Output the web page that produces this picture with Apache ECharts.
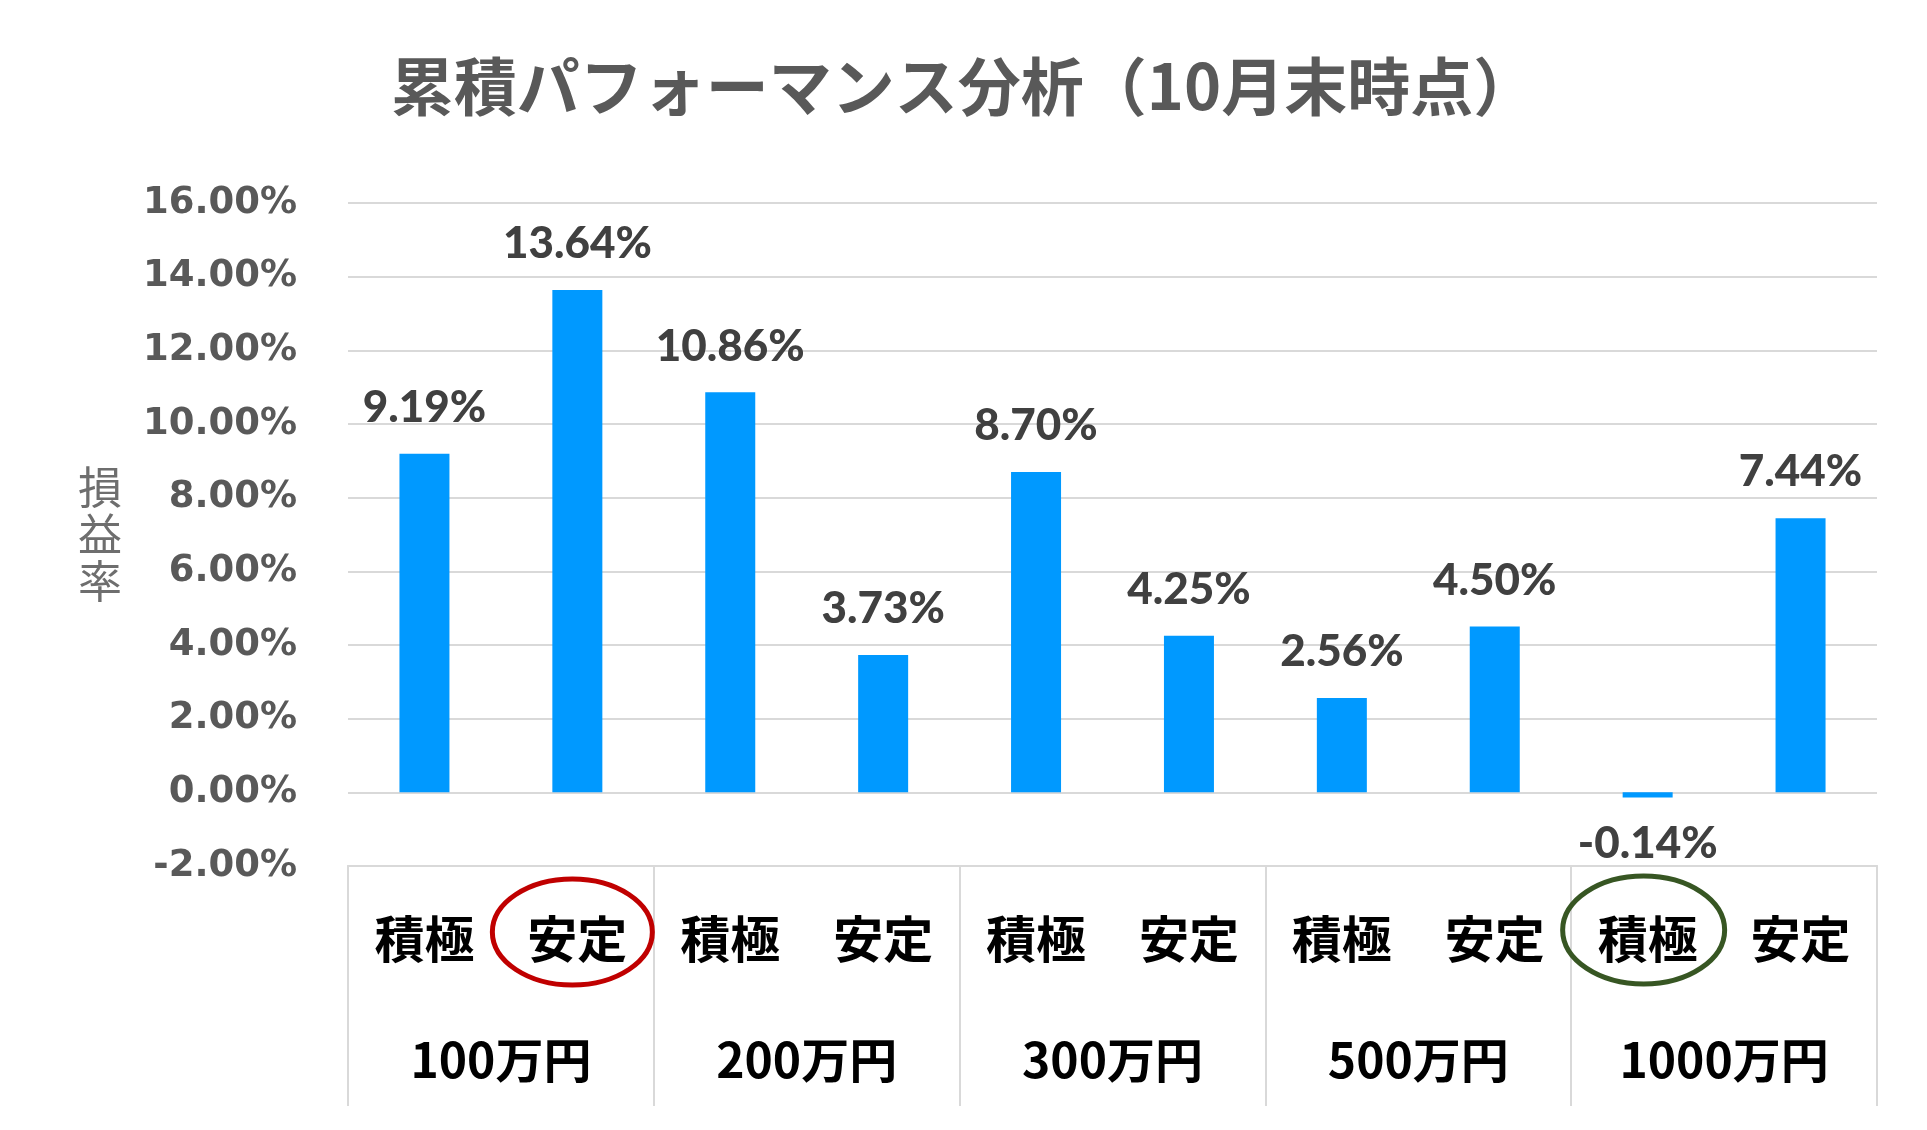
<!DOCTYPE html>
<html>
<head>
<meta charset="utf-8">
<script src="https://cdn.jsdelivr.net/npm/echarts@6/dist/echarts.min.js"></script>
<style>html,body{margin:0;padding:0;background:#fff}#c{width:1927px;height:1130px}</style>
</head>
<body>
<div id="c"></div>
<script>
const titleText = '累積パフォーマンス分析（10月末時点）';
const yAxisName = '損益率';
const types = ['積極','安定','積極','安定','積極','安定','積極','安定','積極','安定'];
const groups = ['100万円','200万円','300万円','500万円','1000万円'];
const values = [9.19, 13.64, 10.86, 3.73, 8.70, 4.25, 2.56, 4.50, -0.14, 7.44];
const yMin = -2, yMax = 16, yStep = 2;
const highlightRed = 1;   // index of circled 安定 (100万円)
const highlightGreen = 8; // index of circled 積極 (1000万円)

const chart = echarts.init(document.getElementById('c'), null, {renderer:'canvas'});
const grid = {left:348, right:50, top:203, bottom:264};
const option = {
  animation:false,
  backgroundColor:'#fff',
  title:{
    text:titleText, left:'center', top:50,
    textStyle:{fontFamily:'Noto Sans CJK JP', fontWeight:'bold', fontSize:63, color:'#595959'}
  },
  grid:grid,
  xAxis:[
    {
      type:'category', data:types, position:'bottom',
      axisLine:{show:true, onZero:false, lineStyle:{color:'#d9d9d9', width:2}},
      axisTick:{show:false},
      axisLabel:{interval:0, margin:48, fontFamily:'Noto Sans CJK JP', fontWeight:'bold', fontSize:50, lineHeight:50, color:'#000'}
    },
    {
      type:'category', data:groups, position:'bottom', offset:0,
      axisLine:{show:true, onZero:false, lineStyle:{color:'#d9d9d9', width:2}},
      axisTick:{show:true, inside:false, length:240, alignWithLabel:false, interval:0, lineStyle:{color:'#d9d9d9', width:2}},
      axisLabel:{interval:0, margin:170, fontFamily:'Noto Sans CJK JP', fontWeight:'bold', fontSize:48, lineHeight:48, color:'#000'}
    }
  ],
  yAxis:{
    type:'value', min:yMin, max:yMax, interval:yStep,
    name:yAxisName.split('').join('\n'), nameLocation:'middle', nameRotate:0, nameGap:226,
    nameTextStyle:{fontFamily:'Noto Sans CJK JP', fontSize:44, lineHeight:47, color:'#6e6e6e'},
    axisLine:{show:false}, axisTick:{show:false},
    axisLabel:{margin:51, fontFamily:'DejaVu Sans', fontWeight:'bold', fontSize:37, color:'#595959',
      padding:[6,0,0,0], formatter:v=>v.toFixed(2)+'%'},
    splitLine:{lineStyle:{color:'#d9d9d9', width:2}}
  },
  series:[{
    type:'bar', xAxisIndex:0, barWidth:50,
    itemStyle:{color:'#0099ff'},
    data:values.map(v=>({value:v, label:{position: v<0?'bottom':'top'}})),
    label:{show:true, distance:24, fontFamily:'Lato', fontWeight:900, fontSize:44, color:'#404040',
      formatter:p=>p.value.toFixed(2)+'%'}
  }]
};
chart.setOption(option);

const yLab = chart.convertToPixel({yAxisIndex:0}, yMin) + 66;
const xr = chart.convertToPixel({xAxisIndex:0}, highlightRed);
const xg = chart.convertToPixel({xAxisIndex:0}, highlightGreen);
chart.setOption({
  graphic:[
    {type:'ellipse', shape:{cx:xr-5, cy:yLab, rx:80, ry:53}, style:{fill:null, stroke:'#c00000', lineWidth:5}, z:100},
    {type:'ellipse', shape:{cx:xg-4, cy:yLab-2, rx:81, ry:54}, style:{fill:null, stroke:'#375623', lineWidth:5}, z:100}
  ]
});
</script>
</body>
</html>
